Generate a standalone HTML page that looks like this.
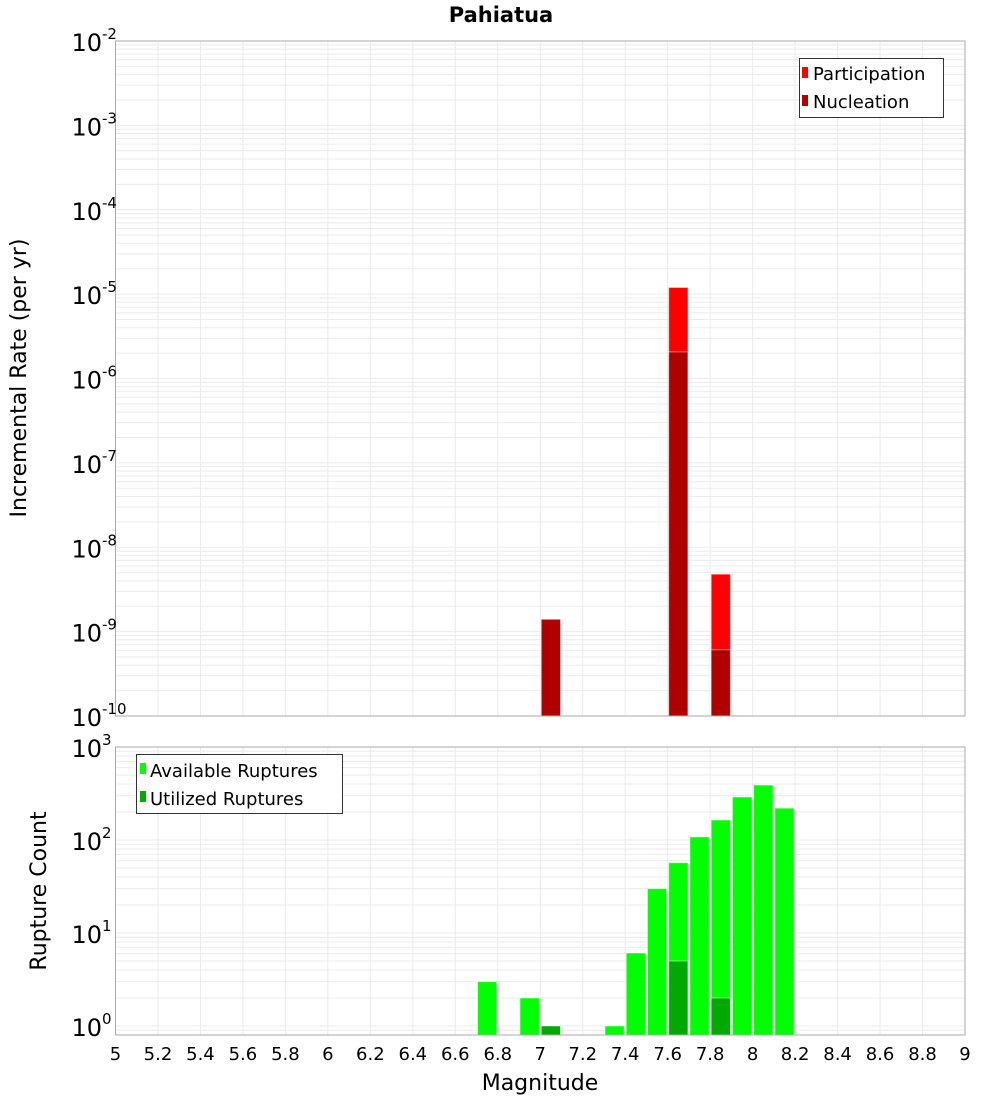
<!DOCTYPE html>
<html><head><meta charset="utf-8"><style>
html,body{margin:0;padding:0;background:#fff;}
svg{display:block;font-family:"DejaVu Sans","Liberation Sans",sans-serif;}
</style></head><body>
<svg id="chart" width="1000" height="1100" viewBox="0 0 1000 1100" xmlns="http://www.w3.org/2000/svg">
<text x="501" y="22" text-anchor="middle" font-size="21" font-weight="bold">Pahiatua</text>
<g id="top"></g>
<g id="bot"></g>
<text transform="translate(26,378) rotate(-90)" text-anchor="middle" font-size="22">Incremental Rate (per yr)</text>
<text transform="translate(46,891) rotate(-90)" text-anchor="middle" font-size="22">Rupture Count</text>
<text x="540" y="1090" text-anchor="middle" font-size="22">Magnitude</text>
<g>
<rect x="799.5" y="58.5" width="144" height="59" fill="#fff" stroke="#333"/>
<rect x="802" y="67" width="6" height="11" fill="#ff0000"/>
<text x="813" y="80" font-size="18">Participation</text>
<rect x="802" y="95" width="6" height="11" fill="#b00000"/>
<text x="813" y="108" font-size="18">Nucleation</text>
</g>
<g>
<rect x="136.5" y="754.5" width="206" height="59" fill="#fff" stroke="#333"/>
<rect x="140" y="763" width="6" height="11" fill="#00ff00"/>
<text x="150" y="777" font-size="18">Available Ruptures</text>
<rect x="140" y="791" width="6" height="11" fill="#00aa00"/>
<text x="150" y="805" font-size="18">Utilized Ruptures</text>
</g>
</svg>
<script>
const rateMags = [7.05, 7.65, 7.85];
const participation = [1.4e-9, 1.2e-5, 4.8e-9];
const nucleation = [1.4e-9, 2.07e-6, 6.1e-10];
const countMags = [6.75, 6.95, 7.05, 7.35, 7.45, 7.55, 7.65, 7.75, 7.85, 7.95, 8.05, 8.15];
const available = [3, 2, 1, 1, 6.1, 30, 57, 108, 164, 290, 390, 220];
const utilizedMags = [7.05, 7.65, 7.85];
const utilized = [1, 5, 2];
const xTicks = [5,5.2,5.4,5.6,5.8,6,6.2,6.4,6.6,6.8,7,7.2,7.4,7.6,7.8,8,8.2,8.4,8.6,8.8,9];
const rateExps = [-2,-3,-4,-5,-6,-7,-8,-9,-10];
const countExps = [3,2,1,0];

const NS = "http://www.w3.org/2000/svg";
const X0 = 115.5, X1 = 965;
const xs = m => X0 + (m - 5) / 4 * (X1 - X0);
const T = {top: 41, bot: 716, hi: -2, lo: -10};
const yTop = v => T.top + (T.hi - Math.log10(v)) / (T.hi - T.lo) * (T.bot - T.top);
const B = {top: 747, bot: 1035};
const yBot = v => 1026 - Math.log10(v) * 93;
function mk(parent, tag, attrs) {
  const e = document.createElementNS(NS, tag);
  for (const k in attrs) e.setAttribute(k, attrs[k]);
  parent.appendChild(e); return e;
}
function grid(g, top, bot, exps, yf) {
  const gl = mk(g, "g", {});
  
  
  xTicks.forEach(t => mk(gl, "line", {x1: xs(t), x2: xs(t), y1: top, y2: bot, stroke: "#ebebeb"}));
  const lo = Math.min(...exps), hi = Math.max(...exps);
  for (let e = lo - 1; e <= hi; e++) for (let k = 1; k < 10; k++) {
    const y = yf(k * Math.pow(10, e));
    if (y >= top && y <= bot) mk(gl, "line", {x1: X0, x2: X1, y1: y, y2: y, stroke: "#ebebeb"});
  }
}
function frame(g, top, bot) {
  const r = mk(g, "rect", {x: X0, y: top, width: X1 - X0, height: bot - top, fill: "none", stroke: "#aaa"});
  
  
}
function yLabels(g, exps, yf) {
  exps.forEach(e => {
    const y = yf(Math.pow(10, e));
    const t = mk(g, "text", {x: 102, y: y + 10, "text-anchor": "end", "font-size": 24});
    
    
    t.textContent = "10";
    const s = mk(g, "text", {x: 102, y: y - 2, "font-size": 15});
    
    
    s.textContent = String(e);
  });
}
function bar(g, m, yTopPx, base, fill, name) {
  const x = xs(m - 0.05) + 1;
  const w = xs(m + 0.05) - xs(m - 0.05) - 2;
  const r = mk(g, "rect", {x: x, y: yTopPx, width: w, height: base - yTopPx, fill: fill, stroke: "#ffffff", "stroke-opacity": 0.5, "stroke-width": 1});
  
  
}
const gt = document.getElementById("top"), gb = document.getElementById("bot");
grid(gt, T.top, T.bot, rateExps, yTop);
grid(gb, B.top, B.bot, countExps, yBot);
rateMags.forEach((m, i) => bar(gt, m, yTop(participation[i]), T.bot, "#ff0000", "participation-bar"));
rateMags.forEach((m, i) => bar(gt, m, yTop(nucleation[i]), T.bot, "#b00000", "nucleation-bar"));
countMags.forEach((m, i) => bar(gb, m, yBot(available[i]), B.bot, "#00ff00", "available-bar"));
utilizedMags.forEach((m, i) => bar(gb, m, yBot(utilized[i]), B.bot, "#00aa00", "utilized-bar"));
frame(gt, T.top, T.bot);
frame(gb, B.top, B.bot);
yLabels(gt, rateExps, yTop);
yLabels(gb, countExps, yBot);
xTicks.forEach(t => {
  const l = mk(gb, "text", {x: xs(t), y: 1060, "text-anchor": "middle", "font-size": 18});
  
  
  l.textContent = String(t);
});
</script>
</body></html>
